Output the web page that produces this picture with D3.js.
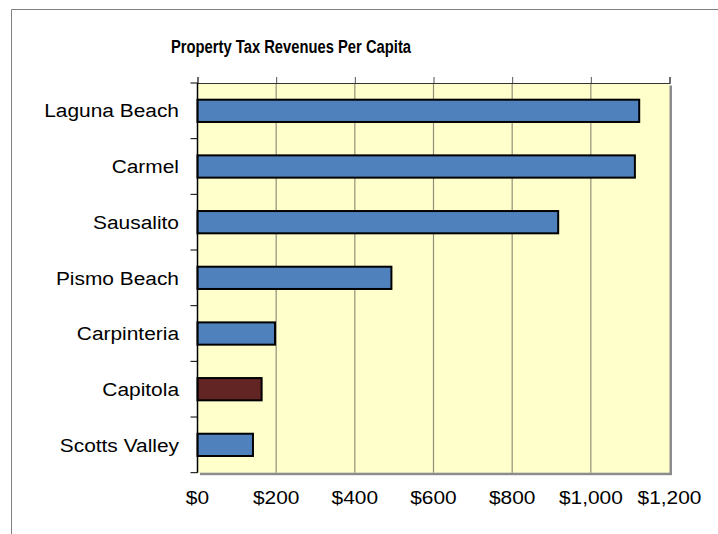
<!DOCTYPE html>
<html>
<head>
<meta charset="utf-8">
<script src="https://cdn.jsdelivr.net/npm/d3@7"></script>
<style>
  html, body { margin: 0; padding: 0; background: #ffffff; }
  svg { display: block; }
  text { font-family: "Liberation Sans", Arial, sans-serif; fill: #000; }
</style>
</head>
<body>
<svg id="chart" width="718" height="534"></svg>
<script>
// Property tax revenues per capita, by city
const cities = ["Laguna Beach", "Carmel", "Sausalito", "Pismo Beach", "Carpinteria", "Capitola", "Scotts Valley"];
const revenues = [1123, 1112, 917, 493, 197, 163, 141];
const highlighted = ["Capitola"];
const xTickValues = [0, 200, 400, 600, 800, 1000, 1200];
const chartTitle = "Property Tax Revenues Per Capita";

const svg = d3.select("#chart");
const W = 718, H = 534;
const plot = { left: 197.5, right: 669.5, top: 83, bottom: 472.7 };
const labelSize = 19, labelStretch = 1.1;

// Outer chart frame (continues past the window edges)
svg.append("path")
  .attr("d", `M11.5,${H + 2} V9.5 H${W + 2}`)
  .attr("fill", "none")
  .attr("stroke", "#808080")
  .attr("stroke-width", 1);

svg.append("text")
  .attr("x", 291)
  .attr("y", 53)
  .attr("text-anchor", "middle")
  .attr("font-size", 18)
  .attr("font-weight", "bold")
  .attr("textLength", 240)
  .attr("lengthAdjust", "spacingAndGlyphs")
  .text(chartTitle);

const x = d3.scaleLinear().domain([0, 1200]).range([plot.left, plot.right]);
const y = d3.scaleBand().domain(cities).range([plot.top, plot.bottom])
  .paddingInner(0.6).paddingOuter(0.3);

// Plot area shadow and background
svg.append("rect")
  .attr("x", plot.left + 2.5).attr("y", plot.top + 2.5)
  .attr("width", plot.right - plot.left).attr("height", plot.bottom - plot.top)
  .attr("fill", "#8c8c8c");
svg.append("rect")
  .attr("x", plot.left).attr("y", plot.top)
  .attr("width", plot.right - plot.left).attr("height", plot.bottom - plot.top)
  .attr("fill", "#FFFFCC");

// Vertical gridlines
svg.append("g")
  .selectAll("line")
  .data(xTickValues.filter(v => v > 0 && v < 1200))
  .join("line")
  .attr("x1", d => x(d)).attr("x2", d => x(d))
  .attr("y1", plot.top).attr("y2", plot.bottom)
  .attr("stroke", "#8f8f7a")
  .attr("stroke-width", 1.2);

// Value axis line and ticks along the top of the plot
const topAxis = d3.axisTop(x).tickValues(xTickValues).tickSize(6).tickFormat("");
const gTop = svg.append("g").attr("transform", `translate(0,${plot.top})`).call(topAxis);
gTop.select(".domain").attr("stroke", "#333").attr("stroke-width", 1.2);
gTop.selectAll(".tick line").attr("stroke", "#555");

// Value labels below the plot
const fmt = d => "$" + d3.format(",")(d);
svg.append("g")
  .selectAll("text")
  .data(xTickValues)
  .join("text")
  .attr("transform", d => `translate(${x(d)},504) scale(${labelStretch},1)`)
  .attr("text-anchor", "middle")
  .attr("font-size", labelSize)
  .text(fmt);

// Bars
svg.append("g")
  .selectAll("rect")
  .data(cities.map((c, i) => ({ city: c, value: revenues[i] })))
  .join("rect")
  .attr("x", x(0))
  .attr("y", d => y(d.city))
  .attr("width", d => x(d.value) - x(0))
  .attr("height", y.bandwidth())
  .attr("fill", d => highlighted.includes(d.city) ? "#632523" : "#4F81BD")
  .attr("stroke", "#000")
  .attr("stroke-width", 2);

// Category axis
const boundaries = d3.range(cities.length + 1).map(i => plot.top + i * (plot.bottom - plot.top) / cities.length);
const gLeft = svg.append("g");
gLeft.append("line")
  .attr("x1", plot.left).attr("x2", plot.left)
  .attr("y1", plot.top).attr("y2", plot.bottom)
  .attr("stroke", "#000").attr("stroke-width", 1.5);
gLeft.selectAll("line.tick")
  .data(boundaries)
  .join("line")
  .attr("class", "tick")
  .attr("x1", plot.left - 7).attr("x2", plot.left)
  .attr("y1", d => d).attr("y2", d => d)
  .attr("stroke", "#000").attr("stroke-width", 1);
gLeft.selectAll("text")
  .data(cities)
  .join("text")
  .attr("transform", d => `translate(179,${y(d) + y.bandwidth() / 2}) scale(${labelStretch},1)`)
  .attr("dy", "0.35em")
  .attr("text-anchor", "end")
  .attr("font-size", labelSize)
  .text(d => d);
</script>
</body>
</html>
